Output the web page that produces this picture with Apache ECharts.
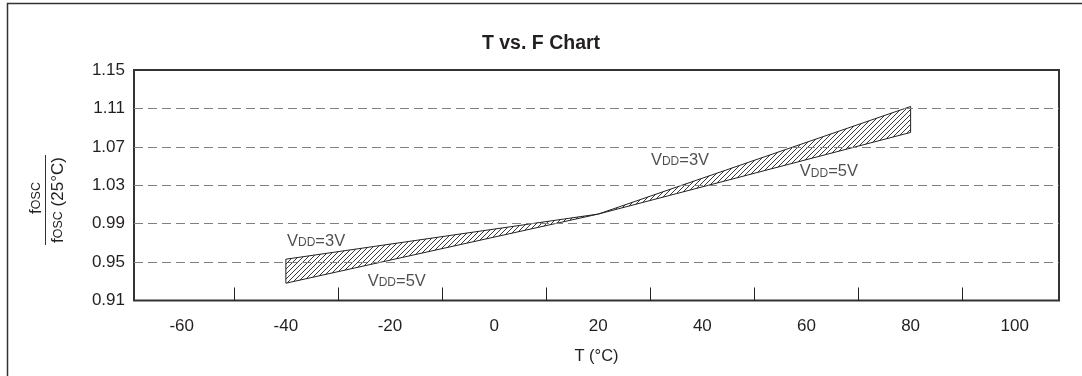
<!DOCTYPE html>
<html><head><meta charset="utf-8">
<script src="https://cdn.jsdelivr.net/npm/echarts@6/dist/echarts.min.js"></script>
<style>html,body{margin:0;padding:0;background:#fff}#c{width:1082px;height:376px}</style>
</head><body><div id="c"></div>
<script>
// ---- data ----
const temps = [-40, 20, 80];                 // T (°C)
const vdd3 = [0.953, 1.000, 1.112];          // VDD=3V curve (upper edge)
const vdd5 = [0.928, 1.000, 1.085];          // VDD=5V curve (lower edge)
const xLabels = [-60, -40, -20, 0, 20, 40, 60, 80, 100];
const xTicks = [-50, -30, -10, 10, 30, 50, 70, 90];
const yLabels = [0.91, 0.95, 0.99, 1.03, 1.07, 1.11, 1.15];
const yGrid = [0.95, 0.99, 1.03, 1.07, 1.11];
const noteX = [-34.2, -18.7, 35.7, 64.3];
const noteY = [0.972, 0.930, 1.056, 1.044];
const noteV = ['3V', '5V', '3V', '5V'];

const FONT = "'Liberation Sans', Arial, sans-serif";
const TXT = '#231f20';

// hatch pattern
const s = 5;
const cv = document.createElement('canvas');
cv.width = s; cv.height = s;
const cx = cv.getContext('2d');
cx.strokeStyle = '#222'; cx.lineWidth = 0.9;
cx.beginPath();
cx.moveTo(-1, s + 1); cx.lineTo(s + 1, -1);
cx.moveTo(-1, 1); cx.lineTo(1, -1);
cx.moveTo(s - 1, s + 1); cx.lineTo(s + 1, s - 1);
cx.stroke();
const hatch = { image: cv, repeat: 'repeat' };

const chart = echarts.init(document.getElementById('c'), null, { renderer: 'canvas' });
const richV = {
  v: { fontSize: 16.5, fontFamily: FONT, color: TXT, verticalAlign: 'bottom' },
  d: { fontSize: 12, fontFamily: FONT, color: TXT, verticalAlign: 'bottom', padding: [0, 0, 1, 0] }
};
const richN = {
  a: { fontSize: 17, fontFamily: FONT, fill: TXT, verticalAlign: 'bottom' },
  b: { fontSize: 12.5, fontFamily: FONT, fill: TXT, verticalAlign: 'bottom', padding: [0, 0, 1, 0] }
};
chart.setOption({
  animation: false,
  backgroundColor: '#fff',
  title: {
    text: 'T vs. F Chart', left: 'center', top: 29,
    textStyle: { fontSize: 19.5, fontWeight: 'bold', fontFamily: FONT, color: TXT }
  },
  grid: { left: 134, top: 70, width: 925, height: 230.5, show: true, borderColor: '#333', borderWidth: 2, backgroundColor: 'transparent' },
  xAxis: {
    type: 'value', min: -69.17, max: 108.5,
    name: 'T (°C)', nameLocation: 'middle', nameGap: 47,
    nameTextStyle: { fontSize: 16.5, fontFamily: FONT, color: TXT },
    axisLine: { show: false },
    axisTick: { show: true, inside: true, length: 13, customValues: xTicks, lineStyle: { color: '#222', width: 1 } },
    axisLabel: { customValues: xLabels, margin: 17, fontSize: 17, fontFamily: FONT, color: TXT },
    splitLine: { show: false }
  },
  yAxis: {
    type: 'value', min: 0.91, max: 1.15,
    axisLine: { show: false },
    axisTick: { show: false },
    axisLabel: { customValues: yLabels, margin: 9, fontSize: 17, fontFamily: FONT, color: TXT,
      formatter: v => v.toFixed(2) },
    splitLine: { show: false }
  },
  graphic: [
    { type: 'rect', shape: { x: 7.5, y: 3.5, width: 1090, height: 400 }, style: { fill: 'none', stroke: '#333', lineWidth: 1.5 }, silent: true },
    { type: 'text', x: 36, y: 198, rotation: Math.PI / 2,
      style: { text: '{a|f}{b|OSC}', align: 'center', verticalAlign: 'middle', rich: richN } },
    { type: 'line', shape: { x1: 45.5, y1: 155, x2: 45.5, y2: 245 }, style: { stroke: '#333', lineWidth: 1 } },
    { type: 'text', x: 58, y: 200, rotation: Math.PI / 2,
      style: { text: '{a|f}{b|OSC}{a| (25°C)}', align: 'center', verticalAlign: 'middle', rich: richN } }
  ],
  series: [
    {
      type: 'custom', z: 3,
      data: [[temps[0], vdd3[0]]],
      renderItem: function (params, api) {
        const pts = [];
        for (let i = 0; i < temps.length; i++) pts.push(api.coord([temps[i], vdd3[i]]));
        for (let i = temps.length - 1; i >= 0; i--) pts.push(api.coord([temps[i], vdd5[i]]));
        return { type: 'polygon', shape: { points: pts }, style: { fill: hatch, stroke: '#222', lineWidth: 1 } };
      }
    },
    {
      type: 'scatter', z: 4, symbolSize: 1, itemStyle: { color: 'rgba(0,0,0,0)' }, silent: true,
      data: noteX.map((x, i) => [x, noteY[i], noteV[i]]),
      label: { show: true, position: 'inside',
        formatter: p => '{v|V}{d|DD}{v|=' + p.data[2] + '}', rich: richV },
      markLine: {
        silent: true, symbol: ['none', 'none'], label: { show: false },
        lineStyle: { color: '#808080', type: [9, 5], width: 1 },
        data: yGrid.map(v => ({ yAxis: v }))
      }
    }
  ]
});
</script></body></html>
